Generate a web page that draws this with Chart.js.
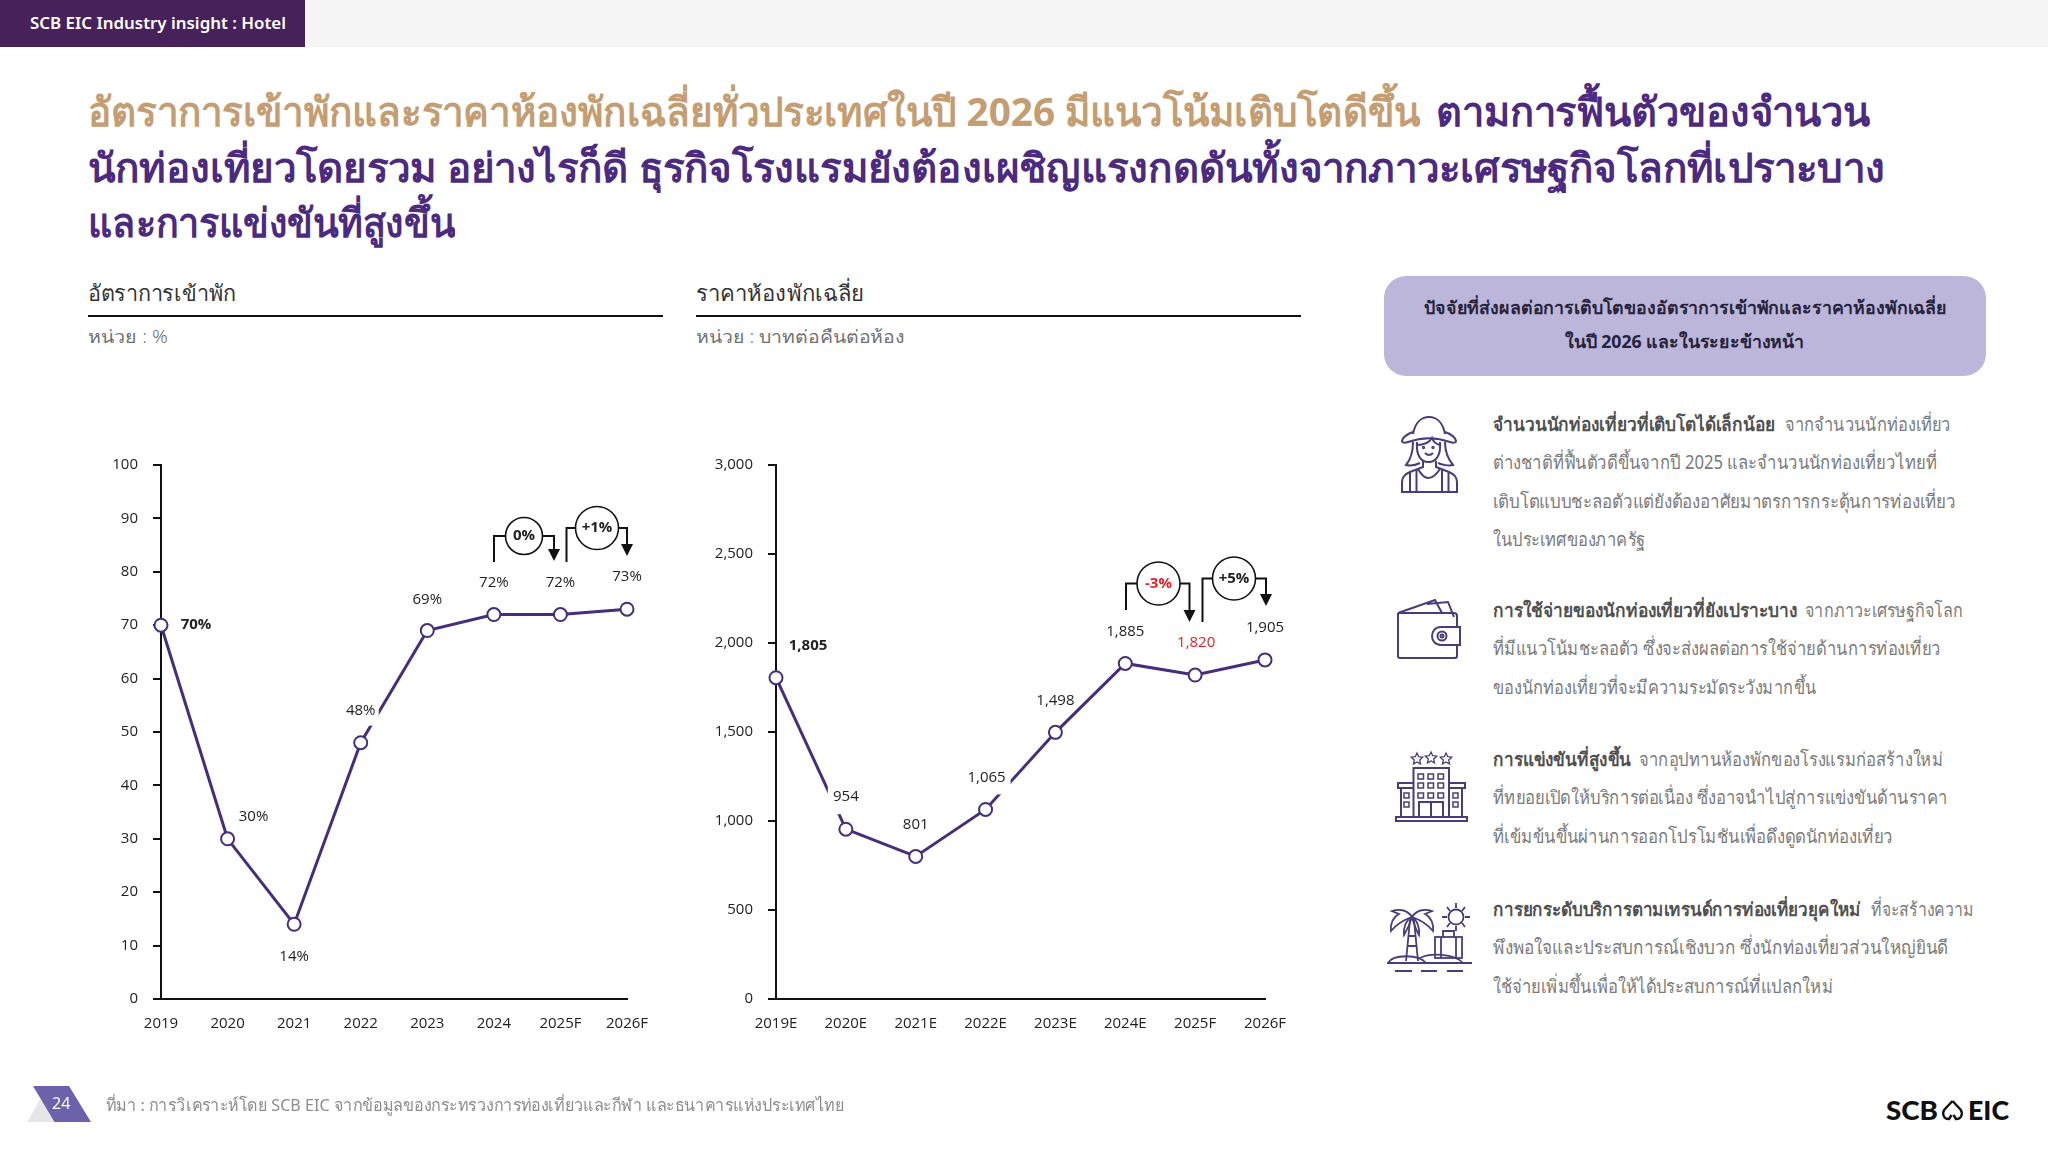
<!DOCTYPE html>
<html lang="th">
<head>
<meta charset="utf-8">
<script src="https://cdn.jsdelivr.net/npm/chart.js@4/dist/chart.umd.js"></script>
<style>
html, body { margin: 0; padding: 0; background: #fff; }
body { position: relative; width: 2048px; height: 1152px; overflow: hidden; font-family: "Noto Sans", "Open Sans", sans-serif; }
.box { position: absolute; }
.t { position: absolute; white-space: nowrap; transform-origin: left center; }
.title { font-size: 40px; line-height: 56px; height: 56px; font-weight: 700; color: #4b2a80; }
.gold { color: #c49d72; }
.head { font-size: 22px; line-height: 30px; height: 30px; color: #333; font-weight: 500; }
.unit { font-size: 18px; line-height: 26px; height: 26px; color: #707070; font-weight: 300; }
.panel { font-size: 18px; line-height: 26px; height: 26px; font-weight: 700; color: #26233a; }
.body { font-size: 19px; line-height: 28px; height: 28px; color: #7a7a7a; }
.bold { font-weight: 700; color: #505050; }
canvas { position: absolute; }
svg { position: absolute; overflow: visible; }
</style>
</head>
<body>
<div class="box" style="left:0;top:0;width:2048px;height:47px;background:#f5f5f5"></div>
<div class="box" style="left:0;top:0;width:305px;height:47px;background:#47215a"></div>
<div class="t" data-w="256" style="left:30px;top:10px;font-size:16px;line-height:26px;font-weight:600;color:#fff">SCB EIC Industry insight : Hotel</div>

<div class="t title gold" data-w="1332" style="left:88px;top:83px">อัตราการเข้าพักและราคาห้องพักเฉลี่ยทั่วประเทศในปี 2026 มีแนวโน้มเติบโตดีขึ้น</div>
<div class="t title" data-w="434" style="left:1436px;top:83px">ตามการฟื้นตัวของจำนวน</div>
<div class="t title" data-w="1797" style="left:88px;top:139px">นักท่องเที่ยวโดยรวม อย่างไรก็ดี ธุรกิจโรงแรมยังต้องเผชิญแรงกดดันทั้งจากภาวะเศรษฐกิจโลกที่เปราะบาง</div>
<div class="t title" data-w="367" style="left:88px;top:194px">และการแข่งขันที่สูงขึ้น</div>

<div class="t head" data-w="148" style="left:88px;top:277px">อัตราการเข้าพัก</div>
<div class="box" style="left:88px;top:315px;width:575px;height:2px;background:#111"></div>
<div class="t unit" data-w="80" style="left:88px;top:323px">หน่วย : %</div>
<div class="t head" data-w="168" style="left:696px;top:277px">ราคาห้องพักเฉลี่ย</div>
<div class="box" style="left:696px;top:315px;width:605px;height:2px;background:#111"></div>
<div class="t unit" data-w="209" style="left:696px;top:323px">หน่วย : บาทต่อคืนต่อห้อง</div>

<canvas id="occupancy" width="600" height="610" style="left:90px;top:441px;width:600px;height:610px"></canvas>
<canvas id="price" width="630" height="610" style="left:701px;top:441px;width:630px;height:610px"></canvas>

<div class="box" style="left:1384px;top:276px;width:602px;height:100px;border-radius:22px;background:#bcb6db"></div>
<div class="t panel" data-w="523" style="left:1424px;top:294px">ปัจจัยที่ส่งผลต่อการเติบโตของอัตราการเข้าพักและราคาห้องพักเฉลี่ย</div>
<div class="t panel" data-w="239" style="left:1565px;top:328px">ในปี 2026 และในระยะข้างหน้า</div>

<div class="t body bold" data-w="282" style="left:1493px;top:410px">จำนวนนักท่องเที่ยวที่เติบโตได้เล็กน้อย</div>
<div class="t body" data-w="166" style="left:1785px;top:410px">จากจำนวนนักท่องเที่ยว</div>
<div class="t body" data-w="444" style="left:1493px;top:448px">ต่างชาติที่ฟื้นตัวดีขึ้นจากปี 2025 และจำนวนนักท่องเที่ยวไทยที่</div>
<div class="t body" data-w="463" style="left:1493px;top:487px">เติบโตแบบชะลอตัวแต่ยังต้องอาศัยมาตรการกระตุ้นการท่องเที่ยว</div>
<div class="t body" data-w="152" style="left:1493px;top:525px">ในประเทศของภาครัฐ</div>

<div class="t body bold" data-w="304" style="left:1493px;top:596px">การใช้จ่ายของนักท่องเที่ยวที่ยังเปราะบาง</div>
<div class="t body" data-w="158" style="left:1805px;top:596px">จากภาวะเศรษฐกิจโลก</div>
<div class="t body" data-w="448" style="left:1493px;top:634px">ที่มีแนวโน้มชะลอตัว ซึ่งจะส่งผลต่อการใช้จ่ายด้านการท่องเที่ยว</div>
<div class="t body" data-w="323" style="left:1493px;top:673px">ของนักท่องเที่ยวที่จะมีความระมัดระวังมากขึ้น</div>

<div class="t body bold" data-w="138" style="left:1493px;top:745px">การแข่งขันที่สูงขึ้น</div>
<div class="t body" data-w="304" style="left:1639px;top:745px">จากอุปทานห้องพักของโรงแรมก่อสร้างใหม่</div>
<div class="t body" data-w="455" style="left:1493px;top:783px">ที่ทยอยเปิดให้บริการต่อเนื่อง ซึ่งอาจนำไปสู่การแข่งขันด้านราคา</div>
<div class="t body" data-w="400" style="left:1493px;top:822px">ที่เข้มข้นขึ้นผ่านการออกโปรโมชันเพื่อดึงดูดนักท่องเที่ยว</div>

<div class="t body bold" data-w="368" style="left:1493px;top:895px">การยกระดับบริการตามเทรนด์การท่องเที่ยวยุคใหม่</div>
<div class="t body" data-w="103" style="left:1871px;top:895px">ที่จะสร้างความ</div>
<div class="t body" data-w="455" style="left:1493px;top:933px">พึงพอใจและประสบการณ์เชิงบวก ซึ่งนักท่องเที่ยวส่วนใหญ่ยินดี</div>
<div class="t body" data-w="340" style="left:1493px;top:972px">ใช้จ่ายเพิ่มขึ้นเพื่อให้ได้ประสบการณ์ที่แปลกใหม่</div>

<!-- ไอคอน -->
<svg style="left:1402px;top:417px" width="56" height="76" viewBox="0 0 56 76" fill="none" stroke="#4a3c78" stroke-width="2">
  <path d="M11 17C13 6 19 0 27 0s14 6 16 17"/>
  <path d="M11 15C5 17 0 21 0 24c0 2 3 2 6 1 14-5 28-5 42 0 3 1 6 1 6-1 0-3-5-7-11-9"/>
  <path d="M15 25c-1 12 3 20 11.500 20S39 37 38 25"/>
  <path d="M15 28c6 0 12-2 15-7 1 3 4 6 8 7"/>
  <path d="M11 25c0 10-2 17-7 23 4 1 10 0 14-2"/><path d="M43 25c0 10 3 17 8 23-4 1-11 0-15-2"/>
  <path d="M23 36q4 4 8 0"/><circle cx="21.500" cy="30.500" r=".7"/><circle cx="31" cy="30.500" r=".7"/>
  <path d="M21 44v6l-13 5c-5 2-8 5-8 10v10h55V65c0-5-3-8-8-10l-13-5v-6"/>
  <path d="M8 55v20M14.500 53v22M40 53v22M46.500 55v20M16 52q10 18 22 0"/>
</svg>
<svg style="left:1397px;top:600px" width="64" height="59" viewBox="0 0 64 59" fill="none" stroke="#4a3c78" stroke-width="2">
  <path d="M1 13L38 0l7 13M30 4l21-2 6 15"/>
  <path d="M1 13h56c2 0 3 1 3 3v11M60 45v11c0 1-1 2-2 2H3c-1 0-2-1-2-2V13"/>
  <path d="M63 27H44c-12 0-12 18 0 18h19z"/><circle cx="45" cy="36" r="4.500"/><circle cx="45" cy="36" r="1.500"/>
</svg>
<svg style="left:1396px;top:752px" width="71" height="69" viewBox="0 0 71 69" fill="none" stroke="#4a3c78" stroke-width="2">
  <path d="M21 1l1.700 3.700 4 .5-3 2.700.8 4-3.500-2-3.500 2 .8-4-3-2.700 4-.5zM35 0l1.700 3.700 4 .5-3 2.700.8 4-3.500-2-3.500 2 .8-4-3-2.700 4-.5zM50 1l1.700 3.700 4 .5-3 2.700.8 4-3.500-2-3.500 2 .8-4-3-2.700 4-.5z" stroke-width="1.300"/>
  <path d="M17.500 65V16h35.500v49M17.500 31H2v5h15.500M53 31h16v5H53M5 36v29M66 36v29M0 65h71v4H0z"/>
  <g stroke-width="1.500">
  <rect x="22" y="22" width="5.500" height="5"/><rect x="32" y="22" width="5.500" height="5"/><rect x="42" y="22" width="5.500" height="5"/>
  <rect x="22" y="31" width="5.500" height="5"/><rect x="32" y="31" width="5.500" height="5"/><rect x="42" y="31" width="5.500" height="5"/>
  <rect x="22" y="41" width="5.500" height="5"/><rect x="32" y="41" width="5.500" height="5"/><rect x="42" y="41" width="5.500" height="5"/>
  <rect x="8" y="41" width="5" height="5"/><rect x="8" y="50" width="5" height="5"/><rect x="57" y="41" width="5" height="5"/><rect x="57" y="50" width="5" height="5"/>
  </g>
  <path d="M23 65V50h24v15M35 50v15"/>
</svg>
<svg style="left:1387px;top:902px" width="86" height="71" viewBox="0 0 86 71" fill="none" stroke="#4a3c78" stroke-width="1.800">
  <path d="M25 15C20 7 11 7 5 9l7 3C6 15 3 22 4 29c5-6 12-11 21-14zM25 15c5-8 14-8 20-6l-7 3c6 3 9 10 8 17-5-6-12-11-21-14zM25 15c-6 3-9 11-8 18 3-5 6-11 8-18zM25 15c5 3 8 11 7 18-3-5-5-11-7-18z"/>
  <path d="M23 18l-4 41M27 18l4 41M21 34h8M20 44h10"/>
  <path d="M1 61c5-9 31-9 38 0M33 56c10-5 34-5 43 5M0 61h85"/>
  <rect x="48" y="35" width="27" height="21"/><path d="M56 35v-6h11v6M54 35v21M69 35v21"/>
  <circle cx="69" cy="15" r="7.500"/>
  <path d="M69 1v5M69 24v5M55 15h5M78 15h5M60 5l3 4M78 5l-3 4M60 25l3-4M78 25l-3-4"/>
  <path d="M8 69h17M34 69h16M60 69h16"/>
</svg>

<!-- ส่วนท้าย -->
<svg style="left:0;top:0" width="120" height="1152">
  <polygon points="27,1122 48,1086 55,1122" fill="#e6e6e8"/>
  <polygon points="33,1086 69,1086 91,1122 54.500,1122" fill="#6a63ac"/>
</svg>
<div class="t" style="left:52px;top:1092px;font-size:16px;line-height:22px;color:#fff">24</div>
<div class="t" data-w="738" style="left:106px;top:1092px;font-size:17px;line-height:26px;color:#8c8c8c">ที่มา : การวิเคราะห์โดย SCB EIC จากข้อมูลของกระทรวงการท่องเที่ยวและกีฬา และธนาคารแห่งประเทศไทย</div>
<div class="t" data-w="52" style="left:1886px;top:1094px;font-size:27px;line-height:32px;font-weight:900;color:#111;font-family:Lato,sans-serif">SCB</div>
<svg style="left:1942px;top:1100px" width="21" height="20" viewBox="0 0 21 20" fill="none" stroke="#111" stroke-width="2.400">
  <path d="M10.500 1L2.500 9.500C0 13 1 19 7 19l2.500-4M10.500 1l8 8.500C21 13 20 19 14 19l-2.500-4"/>
</svg>
<div class="t" data-w="41" style="left:1968px;top:1094px;font-size:27px;line-height:32px;font-weight:900;color:#111;font-family:Lato,sans-serif">EIC</div>

<script>
const years = ["2019", "2020", "2021", "2022", "2023", "2024", "2025F", "2026F"];
const occupancyValues = [70, 30, 14, 48, 69, 72, 72, 73];
const occupancyTicks = [0, 10, 20, 30, 40, 50, 60, 70, 80, 90, 100];

const priceYears = ["2019E", "2020E", "2021E", "2022E", "2023E", "2024E", "2025F", "2026F"];
const priceValues = [1805, 954, 801, 1065, 1498, 1885, 1820, 1905];
const priceTicks = [0, 500, 1000, 1500, 2000, 2500, 3000];

const purple = "#472d7a";
const labelFont = '"Open Sans", "Noto Sans", sans-serif';

// ระยะของป้ายค่าจากจุด
const occupancyLabelPos = [[35, 0, 1], [26, -22], [0, 32], [0, -32, 0, 18, 15], [0, -31], [0, -32], [0, -32], [0, -32]];
const priceLabelPos = [[32, -32, 1], [0, -32, 0, 18, 17], [0, -32], [1, -32, 0, 24, 17], [0, -32], [0, -32], [1, -32, 0, 0, 0, "#e8202a"], [0, -32]];

const occupancyBubbles = [
    { text: "0%", cx: 524, cy: 535, r: 18.5, leftX: 494, leftBottom: 561, rightX: 554, tip: 560 },
    { text: "+1%", cx: 597, cy: 527, r: 21.5, leftX: 566.5, leftBottom: 561, rightX: 627, tip: 555 }
];
const priceBubbles = [
    { text: "-3%", color: "#e8202a", cx: 1157.5, cy: 582.5, r: 21.5, leftX: 1125, leftBottom: 609, rightX: 1188.5, tip: 621 },
    { text: "+5%", cx: 1233, cy: 577.5, r: 21.5, leftX: 1201.5, leftBottom: 621, rightX: 1265, tip: 605 }
];

function ป้ายกำกับ(formatter, positions, bubbles, originX, originY) {
    return {
        id: "callouts",
        afterDatasetsDraw(chart) {
            const ctx = chart.ctx;
            const points = chart.getDatasetMeta(0).data;
            const values = chart.data.datasets[0].data;
            ctx.save();
            ctx.textAlign = "center";
            ctx.textBaseline = "middle";
            points.forEach((point, i) => {
                const [dx, dy, bold, maskW, maskH, color] = positions[i];
                const x = point.x + dx;
                const y = point.y + dy;
                if (maskW) {
                    ctx.fillStyle = "#fff";
                    ctx.fillRect(x - maskW, y - maskH, maskW * 2, maskH * 2);
                }
                ctx.font = (bold ? "700 " : "400 ") + "15px " + labelFont;
                ctx.fillStyle = color || "#222";
                ctx.fillText(formatter(values[i]), x, y);
            });
            bubbles.forEach((b) => {
                const cx = b.cx - originX, cy = b.cy - originY, tip = b.tip - originY;
                ctx.strokeStyle = "#111";
                ctx.lineWidth = 2;
                ctx.beginPath();
                ctx.moveTo(b.leftX - originX, b.leftBottom - originY);
                ctx.lineTo(b.leftX - originX, cy);
                ctx.lineTo(cx, cy);
                ctx.moveTo(cx, cy);
                ctx.lineTo(b.rightX - originX, cy);
                ctx.lineTo(b.rightX - originX, tip - 11);
                ctx.stroke();
                ctx.fillStyle = "#111";
                ctx.beginPath();
                ctx.moveTo(b.rightX - originX, tip);
                ctx.lineTo(b.rightX - originX - 6, tip - 12);
                ctx.lineTo(b.rightX - originX + 6, tip - 12);
                ctx.closePath();
                ctx.fill();
                ctx.fillStyle = "#fff";
                ctx.lineWidth = 1.6;
                ctx.beginPath();
                ctx.arc(cx, cy, b.r, 0, Math.PI * 2);
                ctx.fill();
                ctx.stroke();
                ctx.font = "700 15px " + labelFont;
                ctx.fillStyle = b.color || "#222";
                ctx.fillText(b.text, cx, cy);
            });
            ctx.restore();
        }
    };
}

function สร้างกราฟ(id, labels, values, ticks, max, yWidth, rightPad, plugin) {
    new Chart(document.getElementById(id), {
        type: "line",
        data: {
            labels: labels,
            datasets: [{
                data: values,
                borderColor: purple,
                borderWidth: 3,
                tension: 0,
                clip: false,
                pointRadius: 6.5,
                pointBackgroundColor: "#fff",
                pointBorderColor: purple,
                pointBorderWidth: 2
            }]
        },
        options: {
            responsive: false,
            animation: false,
            layout: { padding: { top: 24, right: rightPad, left: 0, bottom: 0 } },
            plugins: { legend: { display: false }, tooltip: { enabled: false } },
            scales: {
                x: {
                    type: "category",
                    offset: false,
                    afterFit(scale) { scale.height = 52; },
                    border: { color: "#111", width: 2 },
                    grid: { display: false },
                    ticks: { color: "#222", padding: 8, maxRotation: 0, autoSkip: false, font: { family: labelFont, size: 15 } }
                },
                y: {
                    min: 0,
                    max: max,
                    afterFit(scale) { scale.width = yWidth; },
                    afterBuildTicks(scale) { scale.ticks = ticks.map((v) => ({ value: v })); },
                    border: { color: "#111", width: 2 },
                    grid: { drawOnChartArea: false, drawTicks: true, tickLength: 8, color: "#111", lineWidth: 2 },
                    ticks: { color: "#222", padding: 15, font: { family: labelFont, size: 15 },
                        callback: (v) => v.toLocaleString("en-US") }
                }
            }
        },
        plugins: [plugin]
    });
}

function ปรับความกว้าง() {
    document.querySelectorAll("[data-w]").forEach((el) => {
        const w = el.getBoundingClientRect().width;
        el.style.transform = "scaleX(" + (parseFloat(el.dataset.w) / w) + ")";
    });
}

สร้างกราฟ("occupancy", years, occupancyValues, occupancyTicks, 100, 71, 63,
    ป้ายกำกับ((v) => v + "%", occupancyLabelPos, occupancyBubbles, 90, 440));
สร้างกราฟ("price", priceYears, priceValues, priceTicks, 3000, 75, 66,
    ป้ายกำกับ((v) => v.toLocaleString("en-US"), priceLabelPos, priceBubbles, 700, 440));
ปรับความกว้าง();
</script>
</body>
</html>
